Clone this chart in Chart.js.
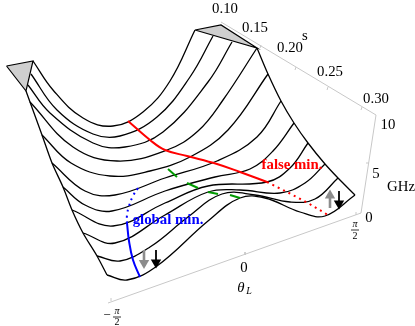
<!DOCTYPE html>
<html><head><meta charset="utf-8">
<style>html,body{margin:0;padding:0;background:#fff}canvas{display:block}</style>
<script src="https://cdn.jsdelivr.net/npm/chart.js@4"></script>
</head><body><canvas id="c" width="415" height="326"></canvas>
<script>
// Projected 3D surface, one slice per s value
const sliceS10=[[33,61],[53,90],[83,118],[113,126],[143,112],[170,81],[195,30]];
const sliceS12=[[31,74],[57,110],[93,134],[120,136],[157,117],[190,77],[213,36]];
const sliceS14=[[28,85],[50,113],[93,143],[125,147],[163,132],[208,82],[232,42]];
const sliceS16=[[30,102],[73,147],[117,161],[167,150],[198,131],[223,100],[257,48]];
const sliceS18=[[42,135],[71,163],[110,176],[150,171],[190,157],[228,130],[268,74]];
const sliceS20=[[52,163],[85,191],[115,195],[165,178],[217,161],[257,137],[281,101]];
const sliceS22=[[63,187],[85,205],[112,211],[165,191],[215,177],[250,169],[273,151],[294,123]];
const sliceS24=[[72,210],[113,226],[165,203],[208,186],[267,182],[290,168],[308,143]];
const sliceS26=[[83,233],[115,243],[165,215],[208,192],[240,190],[280,193],[305,183],[325,164]];
const sliceS28=[[97,256],[120,261],[150,247],[188,217],[222,194],[255,195],[290,202],[315,199],[338,178]];
const sliceS30=[[107,275],[127,280],[157,266],[208,221],[240,198],[265,198],[300,212],[325,216],[355,195]];
const slices=[sliceS10,sliceS12,sliceS14,sliceS16,sliceS18,sliceS20,sliceS22,sliceS24,sliceS26,sliceS28,sliceS30];
const edgeLeft=[[26,91],[30,102],[42,135],[52,163],[63,187],[72,210],[83,233],[97,256],[107,275]];
const edgeRight=[[257,48],[268,74],[281,101],[294,123],[308,143],[325,164],[338,178],[355,195]];
const capLeft=[[6.5,66],[33,61],[26,91],[6.5,66]];
const capRight=[[195,30],[221,25],[257,48],[195,30]];
const falseMinSolid=[[128,121],[150,140],[165,150],[187,156],[217,164],[240,172],[267,182]];
const falseMinDotted=[[267,182],[287,192],[308,203],[328,215]];
const globalMinSolid=[[127,223],[129,241],[133,260],[140,277]];
const globalMinDotted=[[138,188],[133,196],[129,206],[127,215],[127,223]];
const saddleMarks=[[[168,169],[177,177]],[[187,183],[198,188]],[[208,192],[218,194]],[[230,195],[240,198]]];
const axisS=[[221,22],[376,115]];
const axisZ=[[376,115],[361,213]];
const axisTheta=[[361,213],[108,303]];
const tickMarks=[[[261,45],[260,48]],[[296,67],[295,70]],[[328,87],[327,90]],[[362,107],[361,110]],[[245,252],[245,255]],[[111,301],[111,298]],[[356,215],[356,212]],[[369,163],[366,163]]];
const arrowsDown=[{c:'#8c8c8c',w:2.6,p:[[144,250],[144,262]],tip:[144,263]},{c:'#000',w:1.8,p:[[156,250],[156,262]],tip:[156,262.5]},{c:'#000',w:1.8,p:[[339,191],[339,203]],tip:[339,203.5]}];
const arrowsUp=[{c:'#8c8c8c',w:2.6,p:[[330,208],[330,196]],tip:[330,195.5]}];
const serif='"Liberation Serif"';
const sTickLabels=['0.10','0.15','0.20','0.25','0.30'];
const sTickPlaces=[[225,9],[255,28],[290,48],[330,72],[376,99]];
const zTickLabels=['10','5','0'];
const zTickPlaces=[[388,125],[376,174],[369,218]];
const notes=[
 {t:'global min.',at:[168,220],font:'bold 14.8px '+serif,c:'#0000ff'},
 {t:'false min.',at:[292,165],font:'bold 14.8px '+serif,c:'#ff0000'},
 {t:'s',at:[305,36],font:'14.8px '+serif,c:'#000'},
 {t:'GHz',at:[401,187],font:'14.8px '+serif,c:'#000'},
 {t:'0',at:[244,268],font:'14.8px '+serif,c:'#000'},
 {t:'θ',at:[241,288],font:'italic 14.8px '+serif,c:'#000'},
 {t:'L',at:[249,291],font:'italic 10px '+serif,c:'#000'},
 {t:'−',at:[107,316],font:'13px '+serif,c:'#000'},
 {t:'π',at:[117,311],font:'italic 10px '+serif,c:'#000'},
 {t:'2',at:[117,322],font:'10px '+serif,c:'#000'},
 {t:'π',at:[355,224],font:'italic 10px '+serif,c:'#000'},
 {t:'2',at:[355,236],font:'10px '+serif,c:'#000'}
];
const fractionBars=[[[113,317],[121,317]],[[351,230],[359,230]]];

const pts=a=>a.map(p=>({x:p[0],y:p[1]}));
const line=(a,c,w,extra)=>Object.assign({data:pts(a),borderColor:c,borderWidth:w,pointRadius:0,showLine:true,fill:false,tension:0},extra||{});
const ds=[];
ds.push(line(axisS,'#c8c8c8',1),line(axisZ,'#c8c8c8',1),line(axisTheta,'#c8c8c8',1));
tickMarks.forEach(t=>ds.push(line(t,'#c8c8c8',1)));
ds.push(line(capLeft,'#000',1.2,{fill:'shape',backgroundColor:'#cfcfcf'}));
ds.push(line(capRight,'#000',1.2,{fill:'shape',backgroundColor:'#cfcfcf'}));
ds.push(line(edgeLeft,'#000',1.3,{tension:0.3}),line(edgeRight,'#000',1.3,{tension:0.3}));
slices.forEach(s=>ds.push(line(s,'#000',1.3,{tension:0.4})));
ds.push(line(falseMinSolid,'#ff0000',2,{tension:0.4}));
ds.push(line(falseMinDotted,'#ff0000',2,{borderDash:[2,4]}));
ds.push(line(globalMinSolid,'#0000ff',2,{tension:0.4}));
ds.push(line(globalMinDotted,'#0000ff',2,{tension:0.4,borderDash:[2,4]}));
saddleMarks.forEach(g=>ds.push(line(g,'#009a00',2)));
fractionBars.forEach(b=>ds.push(line(b,'#000',0.8)));
const head=(a,rot)=>ds.push({data:pts([a.tip]),showLine:false,pointStyle:'triangle',pointRadius:6,pointRotation:rot,pointBackgroundColor:a.c,pointBorderColor:a.c,pointBorderWidth:0});
arrowsDown.forEach(a=>{ds.push(line(a.p,a.c,a.w));head(a,180);});
arrowsUp.forEach(a=>{ds.push(line(a.p,a.c,a.w));head(a,0);});
ds.reverse();

const textPlugin={id:'texts',afterDatasetsDraw(chart){
  const {ctx,scales:{x,y}}=chart;
  const put=(t,at,font,c)=>{ctx.font=font;ctx.fillStyle=c;ctx.textAlign='center';ctx.textBaseline='middle';ctx.fillText(t,x.getPixelForValue(at[0]),y.getPixelForValue(at[1]));};
  ctx.save();
  sTickLabels.forEach((t,i)=>put(t,sTickPlaces[i],'14.8px '+serif,'#000'));
  zTickLabels.forEach((t,i)=>put(t,zTickPlaces[i],'14.8px '+serif,'#000'));
  notes.forEach(n=>put(n.t,n.at,n.font,n.c));
  ctx.restore();
}};
new Chart(document.getElementById('c'),{type:'scatter',data:{datasets:ds},plugins:[textPlugin],options:{
  responsive:false,animation:false,events:[],
  layout:{padding:0,autoPadding:false},
  plugins:{legend:{display:false},tooltip:{enabled:false}},
  clip:false,
  scales:{
    x:{type:'linear',min:0,max:415,display:false},
    y:{type:'linear',min:0,max:326,reverse:true,display:false}
  }}});
</script></body></html>
